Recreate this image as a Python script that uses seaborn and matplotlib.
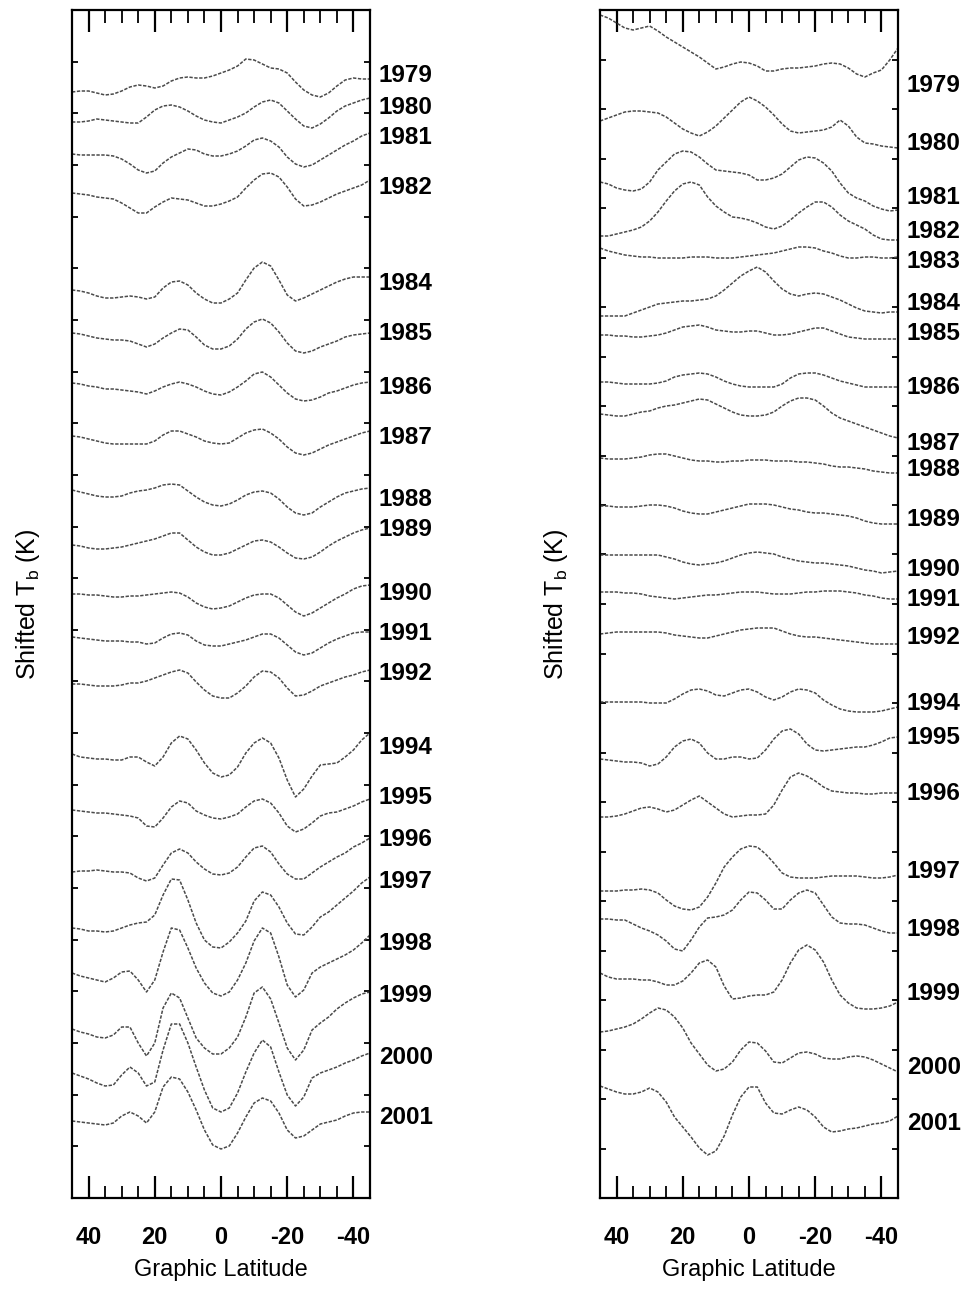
import numpy as np
import pandas as pd
import matplotlib
matplotlib.use("Agg")
import matplotlib.pyplot as plt
import seaborn as sns
from matplotlib.transforms import blended_transform_factory

# Latitude grid of every profile (degrees, north to south)
LAT = np.arange(45, -45.1, -2.5)

# Each profile is listed as its offset below the stacking reference level,
# in tenths of a kelvin; the plotted quantity is the shifted brightness temperature.
REF = 1198

# ---- left panel profiles ----
left_years = [1979, 1980, 1981, 1982, 1984, 1985, 1986, 1987, 1988, 1989, 1990,
              1991, 1992, 1994, 1995, 1996, 1997, 1998, 1999, 2000, 2001]
left_1979 = [92, 91, 91, 93, 95, 94, 91, 87, 85, 86, 88, 86, 81, 78, 77, 78, 78, 76, 73, 70,
             66, 59, 60, 64, 68, 69, 73, 82, 90, 95, 97, 93, 86, 80, 78, 79, 79]
left_1980 = [122, 122, 121, 119, 120, 121, 122, 123, 123, 117, 110, 106, 105, 107, 111, 116, 120, 122, 123, 120,
             117, 113, 107, 102, 100, 103, 111, 119, 126, 128, 124, 118, 111, 106, 103, 100, 98]
left_1981 = [154, 155, 155, 155, 155, 156, 159, 164, 170, 173, 171, 163, 157, 153, 149, 150, 154, 156, 156, 154,
             151, 146, 140, 138, 141, 147, 157, 164, 167, 165, 160, 155, 150, 145, 141, 136, 133]
left_1982 = [193, 194, 195, 197, 198, 199, 203, 208, 213, 213, 207, 202, 198, 199, 200, 203, 206, 206, 204, 201,
             197, 188, 180, 174, 173, 177, 187, 199, 206, 205, 202, 198, 194, 191, 188, 185, 180]
left_1984 = [290, 291, 293, 296, 298, 298, 297, 296, 297, 299, 297, 288, 282, 281, 285, 293, 299, 303, 303, 299,
             293, 280, 268, 262, 266, 280, 295, 301, 298, 294, 290, 286, 282, 279, 277, 277, 277]
left_1985 = [333, 334, 336, 338, 339, 340, 340, 341, 344, 347, 344, 338, 333, 329, 330, 337, 345, 349, 349, 346,
             339, 329, 322, 319, 323, 332, 343, 351, 353, 351, 347, 344, 341, 337, 335, 334, 333]
left_1986 = [383, 384, 386, 387, 389, 389, 390, 391, 392, 394, 391, 387, 384, 382, 384, 387, 391, 394, 395, 392,
             387, 381, 374, 372, 377, 385, 393, 399, 401, 400, 397, 393, 391, 388, 385, 383, 382]
left_1987 = [436, 437, 439, 441, 443, 444, 444, 444, 444, 444, 441, 435, 431, 431, 434, 437, 441, 443, 444, 443,
             438, 433, 430, 429, 433, 439, 447, 453, 455, 453, 449, 445, 442, 439, 436, 433, 431]
left_1988 = [490, 492, 494, 496, 497, 497, 496, 493, 491, 490, 488, 485, 484, 485, 491, 497, 502, 505, 506, 504,
             500, 495, 492, 491, 493, 499, 507, 513, 515, 513, 507, 502, 497, 493, 491, 489, 488]
left_1989 = [545, 546, 548, 549, 549, 548, 547, 545, 543, 541, 539, 536, 533, 533, 540, 547, 552, 555, 555, 553,
             549, 545, 541, 540, 542, 547, 553, 558, 559, 557, 552, 546, 541, 537, 533, 530, 528]
left_1990 = [594, 594, 595, 595, 596, 597, 597, 596, 596, 595, 594, 593, 592, 593, 597, 603, 607, 609, 608, 606,
             602, 598, 595, 594, 594, 598, 605, 612, 616, 613, 608, 603, 598, 594, 589, 586, 585]
left_1991 = [637, 638, 639, 640, 641, 641, 641, 642, 642, 644, 643, 638, 634, 633, 635, 641, 645, 646, 646, 644,
             642, 640, 637, 634, 634, 638, 645, 652, 655, 653, 648, 643, 639, 636, 633, 632, 632]
left_1992 = [684, 684, 685, 686, 686, 686, 685, 683, 683, 681, 678, 675, 672, 670, 673, 682, 690, 696, 698, 698,
             693, 686, 677, 671, 672, 678, 688, 696, 695, 691, 686, 683, 680, 677, 675, 672, 670]
left_1994 = [754, 757, 758, 759, 759, 760, 760, 757, 757, 762, 766, 757, 743, 736, 739, 750, 763, 773, 777, 775,
             767, 753, 743, 738, 743, 758, 780, 797, 789, 776, 765, 764, 763, 757, 750, 740, 733]
left_1995 = [810, 811, 812, 813, 813, 814, 815, 816, 818, 826, 827, 818, 807, 801, 803, 811, 815, 818, 819, 817,
             814, 807, 801, 799, 803, 813, 826, 832, 829, 823, 816, 813, 812, 809, 806, 802, 799]
left_1996 = [872, 871, 871, 870, 871, 872, 872, 873, 878, 881, 878, 865, 853, 849, 853, 862, 869, 874, 875, 873,
             867, 857, 848, 846, 852, 864, 874, 879, 879, 873, 867, 862, 857, 853, 847, 843, 838]
left_1997 = [928, 929, 931, 931, 932, 931, 928, 925, 923, 922, 915, 895, 879, 880, 900, 923, 940, 947, 948, 942,
             933, 921, 901, 892, 895, 907, 923, 934, 935, 927, 917, 912, 905, 898, 891, 883, 877]
left_1998 = [973, 976, 978, 980, 982, 978, 972, 971, 980, 992, 980, 952, 928, 930, 948, 968, 983, 993, 996, 992,
             980, 963, 941, 928, 933, 957, 985, 997, 990, 973, 967, 963, 959, 955, 950, 943, 935]
left_1999 = [1029, 1032, 1034, 1037, 1038, 1035, 1027, 1027, 1043, 1056, 1043, 1008, 993, 998, 1018, 1038, 1048,
             1054, 1054, 1048, 1037, 1017, 993, 987, 999, 1023, 1048, 1060, 1050, 1030, 1023, 1017, 1009, 1003,
             998, 994, 992]
left_2000 = [1073, 1076, 1079, 1083, 1086, 1085, 1075, 1067, 1073, 1086, 1082, 1050, 1024, 1024, 1043, 1067, 1090,
             1108, 1112, 1108, 1093, 1072, 1053, 1040, 1047, 1072, 1095, 1106, 1097, 1078, 1073, 1070, 1067, 1063,
             1060, 1056, 1053]
left_2001 = [1121, 1122, 1123, 1124, 1125, 1123, 1116, 1112, 1116, 1123, 1112, 1087, 1077, 1079, 1092, 1110, 1130,
             1145, 1149, 1146, 1133, 1117, 1103, 1098, 1101, 1113, 1130, 1138, 1136, 1130, 1124, 1122, 1120, 1116,
             1113, 1112, 1112]
# year labels beside the left panel (same offset units)
left_label_at = [75, 107, 138, 188, 283, 334, 387, 438, 500, 530, 593, 633, 673, 747, 798, 840, 882, 943, 995,
                 1057, 1117]

# ---- right panel profiles ----
right_years = [1979, 1980, 1981, 1982, 1983, 1984, 1985, 1986, 1987, 1988, 1989, 1990, 1991, 1992,
               1994, 1995, 1996, 1997, 1998, 1999, 2000, 2001]
right_1979 = [15, 18, 23, 28, 30, 28, 26, 31, 37, 42, 47, 52, 57, 63, 69, 67, 64, 62, 63, 66,
              71, 71, 69, 68, 68, 67, 66, 64, 63, 64, 68, 74, 77, 73, 70, 60, 48]
right_1980 = [121, 118, 115, 112, 111, 111, 112, 113, 117, 123, 129, 133, 136, 132, 126, 118, 110, 102, 97, 101,
              107, 115, 124, 131, 133, 132, 131, 130, 127, 120, 126, 137, 143, 144, 146, 147, 148]
right_1981 = [182, 184, 188, 190, 191, 189, 182, 170, 162, 154, 151, 152, 157, 164, 170, 171, 172, 173, 175, 180,
              180, 178, 174, 167, 160, 157, 158, 163, 171, 183, 193, 198, 201, 206, 209, 211, 210]
right_1982 = [236, 236, 234, 232, 230, 227, 221, 212, 201, 191, 184, 182, 185, 197, 206, 212, 217, 218, 220, 223,
              227, 229, 226, 220, 213, 207, 202, 202, 207, 215, 221, 225, 229, 235, 239, 240, 240]
right_1983 = [248, 251, 253, 255, 256, 257, 257, 258, 258, 258, 258, 257, 257, 257, 258, 258, 258, 257, 256, 255,
              254, 253, 251, 249, 247, 247, 248, 251, 253, 256, 258, 258, 257, 257, 258, 258, 257]
right_1984 = [316, 316, 316, 316, 313, 310, 307, 304, 303, 302, 301, 301, 300, 299, 296, 290, 283, 276, 271, 267,
              272, 281, 289, 294, 296, 294, 293, 294, 297, 300, 304, 308, 311, 312, 313, 312, 312]
right_1985 = [335, 335, 336, 336, 337, 337, 336, 335, 333, 330, 327, 326, 325, 327, 330, 331, 332, 332, 331, 331,
              333, 335, 335, 334, 332, 330, 328, 328, 331, 334, 337, 338, 339, 339, 339, 339, 339]
right_1986 = [382, 382, 383, 384, 384, 384, 384, 383, 381, 377, 375, 374, 373, 374, 377, 381, 384, 386, 387, 387,
              387, 387, 384, 378, 374, 373, 373, 375, 378, 381, 383, 385, 387, 387, 387, 387, 387]
right_1987 = [414, 415, 416, 416, 414, 412, 411, 408, 406, 405, 403, 401, 399, 400, 404, 408, 412, 415, 416, 416,
              415, 412, 406, 401, 398, 398, 400, 406, 413, 418, 421, 424, 427, 430, 433, 436, 438]
right_1988 = [458, 459, 459, 459, 458, 457, 455, 454, 454, 456, 458, 460, 461, 461, 462, 462, 461, 461, 460, 460,
              460, 461, 461, 461, 462, 462, 463, 464, 466, 467, 467, 468, 469, 471, 472, 473, 473]
right_1989 = [506, 506, 507, 507, 507, 506, 505, 505, 506, 508, 511, 513, 514, 514, 512, 510, 508, 506, 504, 504,
              504, 505, 507, 509, 510, 512, 513, 513, 514, 515, 516, 518, 521, 523, 524, 524, 524]
right_1990 = [555, 555, 555, 555, 555, 555, 555, 555, 557, 559, 562, 564, 565, 564, 563, 561, 558, 555, 553, 552,
              553, 554, 557, 559, 561, 562, 563, 563, 564, 565, 566, 568, 570, 571, 573, 572, 571]
right_1991 = [592, 592, 592, 593, 593, 594, 596, 597, 598, 599, 598, 597, 596, 595, 595, 594, 593, 592, 592, 592,
              593, 594, 594, 594, 593, 592, 592, 591, 591, 591, 592, 593, 595, 596, 598, 599, 599]
right_1992 = [634, 633, 632, 632, 632, 632, 632, 632, 633, 635, 636, 637, 638, 638, 636, 634, 632, 630, 629, 628,
              628, 628, 631, 634, 636, 637, 637, 638, 639, 640, 641, 642, 643, 644, 644, 644, 644]
right_1994 = [702, 702, 702, 702, 702, 702, 703, 703, 703, 699, 694, 690, 689, 691, 695, 696, 693, 690, 689, 692,
              697, 700, 697, 692, 689, 690, 693, 700, 705, 709, 711, 712, 712, 712, 711, 709, 707]
right_1995 = [759, 760, 761, 762, 762, 763, 766, 764, 757, 747, 741, 739, 743, 753, 759, 759, 757, 757, 759, 758,
              750, 739, 731, 729, 734, 744, 750, 751, 750, 749, 748, 747, 747, 745, 742, 738, 737]
right_1996 = [817, 817, 816, 814, 811, 808, 807, 809, 812, 810, 805, 800, 796, 802, 808, 814, 817, 816, 815, 815,
              814, 805, 790, 777, 773, 776, 781, 787, 791, 792, 793, 793, 794, 794, 793, 793, 793]
right_1997 = [891, 891, 891, 890, 890, 889, 890, 893, 900, 906, 909, 910, 907, 897, 883, 867, 857, 849, 846, 847,
              854, 863, 873, 877, 878, 878, 878, 877, 876, 876, 876, 876, 877, 878, 878, 877, 875]
right_1998 = [919, 919, 920, 920, 924, 928, 931, 935, 941, 949, 951, 940, 927, 918, 917, 915, 910, 900, 892, 893,
              900, 909, 909, 900, 893, 890, 893, 905, 917, 923, 924, 924, 925, 928, 931, 933, 933]
right_1999 = [973, 977, 979, 979, 979, 980, 980, 982, 985, 985, 981, 973, 963, 960, 967, 986, 999, 998, 996, 995,
              995, 992, 980, 963, 950, 945, 950, 962, 980, 995, 1003, 1008, 1009, 1009, 1008, 1006, 1002]
right_2000 = [1032, 1031, 1029, 1027, 1024, 1019, 1013, 1008, 1010, 1017, 1028, 1043, 1054, 1065, 1071, 1069, 1062,
              1050, 1042, 1043, 1051, 1062, 1063, 1058, 1053, 1052, 1054, 1058, 1059, 1059, 1057, 1056, 1057, 1060,
              1064, 1068, 1072]
right_2001 = [1086, 1089, 1092, 1094, 1094, 1092, 1088, 1092, 1102, 1117, 1127, 1137, 1148, 1155, 1151, 1136, 1115,
              1097, 1087, 1087, 1103, 1113, 1114, 1110, 1107, 1110, 1117, 1127, 1132, 1131, 1129, 1128, 1126, 1124,
              1123, 1121, 1116]
right_label_at = [85, 143, 198, 231, 261, 303, 333, 387, 443, 470, 520, 570, 600, 638, 703, 738, 793, 872, 930,
                  993, 1068, 1123]

left_profiles = [left_1979, left_1980, left_1981, left_1982, left_1984, left_1985, left_1986, left_1987,
                 left_1988, left_1989, left_1990, left_1991, left_1992, left_1994, left_1995, left_1996,
                 left_1997, left_1998, left_1999, left_2000, left_2001]
right_profiles = [right_1979, right_1980, right_1981, right_1982, right_1983, right_1984, right_1985,
                  right_1986, right_1987, right_1988, right_1989, right_1990, right_1991, right_1992,
                  right_1994, right_1995, right_1996, right_1997, right_1998, right_1999, right_2000,
                  right_2001]

XTICKS = [40, 20, 0, -20, -40]
XTICKLABELS = ["40", "20", "0", "-20", "-40"]


def to_tb(offsets):
    return (REF - np.asarray(offsets, dtype=float)) / 10.0


def long_frame(years, profiles):
    rows = []
    for yr, prof in zip(years, profiles):
        rows.append(pd.DataFrame({"lat": LAT, "tb": to_tb(prof), "year": yr}))
    return pd.concat(rows, ignore_index=True)


sns.set_style("ticks")
plt.rcParams["font.family"] = ["Liberation Sans", "DejaVu Sans"]
plt.rcParams["mathtext.fontset"] = "custom"
plt.rcParams["mathtext.rm"] = "Liberation Sans"
plt.rcParams["mathtext.it"] = "Liberation Sans"
plt.rcParams["text.color"] = "black"
plt.rcParams["axes.labelcolor"] = "black"
plt.rcParams["xtick.color"] = "black"
plt.rcParams["ytick.color"] = "black"

W, H = 966, 1289
fig = plt.figure(figsize=(W / 100, H / 100), dpi=100)
fig.patch.set_facecolor("white")

panels = [
    (72, 298, left_years, left_profiles, left_label_at, 24),
    (600, 298, right_years, right_profiles, right_label_at, 25),
]

for x0, wpx, years, profiles, label_at, nytick in panels:
    ax = fig.add_axes([x0 / W, 1 - 1198 / H, wpx / W, 1188 / H])
    df = long_frame(years, profiles)
    sns.lineplot(data=df, x="lat", y="tb", units="year", estimator=None, sort=False,
                 color="#4a4a4a", linewidth=1.1, linestyle=(0, (2.2, 1.0)), legend=False, ax=ax)

    ax.set_xlim(45, -45)
    ax.set_ylim(0, (REF - 10) / 10.0)
    ax.set_xticks(XTICKS)
    ax.set_xticklabels(XTICKLABELS, fontsize=17, fontweight="bold")
    ax.set_xticks(np.arange(-40, 41, 5), minor=True)
    ax.tick_params(axis="x", which="major", direction="in", length=16, width=1.6,
                   top=True, bottom=True, pad=20)
    ax.tick_params(axis="x", which="minor", direction="in", length=9, width=1.3,
                   top=True, bottom=True)
    ax.set_yticks(np.linspace(0, (REF - 10) / 10.0, nytick))
    ax.tick_params(axis="y", which="major", direction="in", length=4, width=1.3,
                   left=True, right=True, labelleft=False)
    ax.set_yticks([], minor=True)
    for sp in ax.spines.values():
        sp.set_visible(True)
        sp.set_linewidth(1.6)
        sp.set_color("black")

    ax.set_xlabel("Graphic Latitude", fontsize=17)
    ax.xaxis.set_label_coords(0.5, -0.051)
    ax.set_ylabel(r"Shifted T$_{\mathregular{b}}$ (K)", fontsize=18)
    ax.yaxis.set_label_coords(-0.1, 0.5)

    trans = blended_transform_factory(ax.transAxes, ax.transData)
    for yr, pos in zip(years, label_at):
        ax.text(1.03, to_tb(pos), str(yr), transform=trans, ha="left", va="center",
                fontsize=17.5, fontweight="bold", clip_on=False)

fig.savefig("out.png", dpi=100, facecolor="white")
